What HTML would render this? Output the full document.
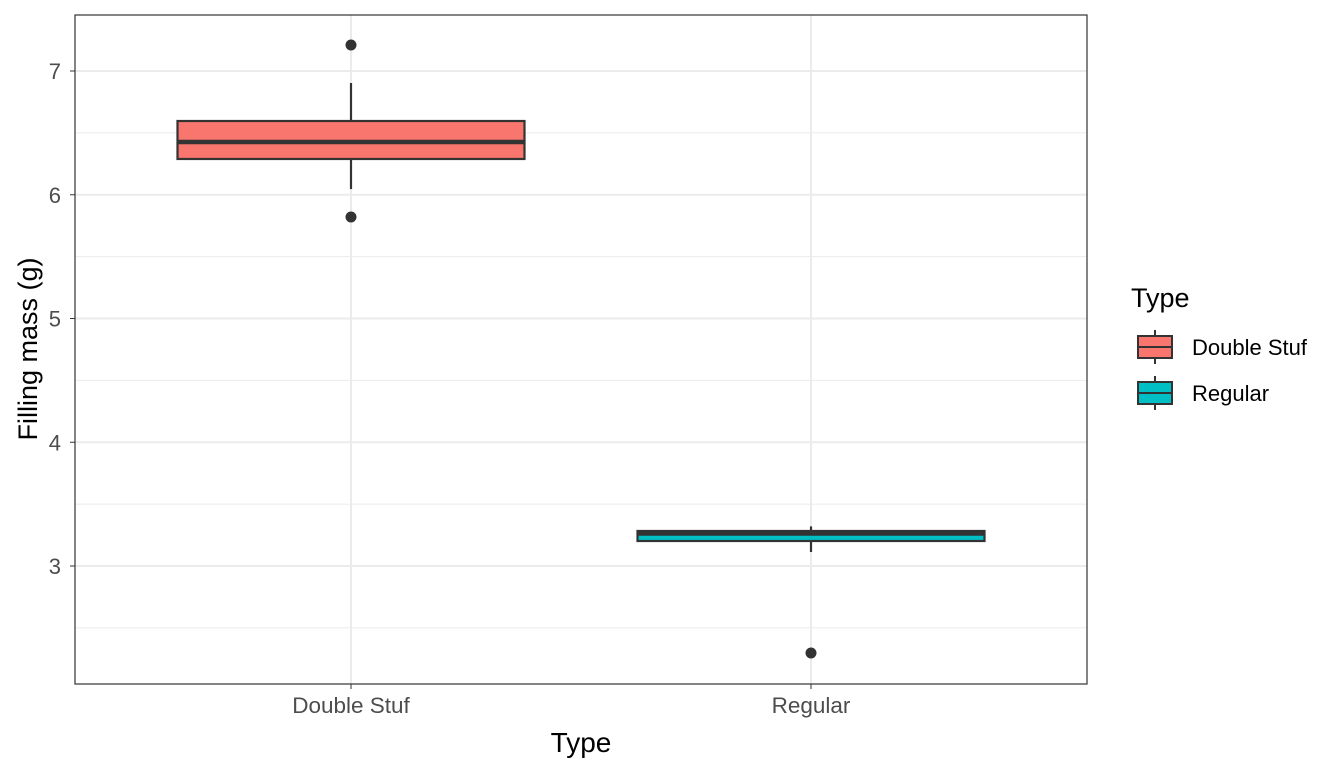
<!DOCTYPE html>
<html><head><meta charset="utf-8"><style>
body{margin:0;background:#fff;font-family:"Liberation Sans",sans-serif;}
</style></head><body>
<svg id="chart" width="1344" height="768" xmlns="http://www.w3.org/2000/svg"></svg>
<script>
const categories = ["Double Stuf","Regular"];
const fills = ["#F8766D","#00BFC4"];
const lowerWhisker = [6.046, 3.113];
const q1 = [6.289, 3.202];
const medians = [6.426, 3.263];
const q3 = [6.596, 3.283];
const upperWhisker = [6.903, 3.32];
const outliers = [[7.21, 5.82],[2.297]];
const yTicks = [3,4,5,6,7];
const yMinor = [2.5,3.5,4.5,5.5,6.5];

const NS="http://www.w3.org/2000/svg";
const svg=document.getElementById('chart');
const P={l:75,r:1087,t:15,b:684};
const y=v=>566-(v-3)*123.75;
const x=i=>351+i*460;
const bw=347;
function mk(t,a,parent){const e=document.createElementNS(NS,t);for(const k in a)e.setAttribute(k,a[k]);(parent||svg).appendChild(e);return e;}

yMinor.forEach(v=>{const g=mk('line',{x1:P.l,x2:P.r,y1:y(v),y2:y(v),stroke:'#ebebeb','stroke-width':1});

});
yTicks.forEach(v=>{const g=mk('line',{x1:P.l,x2:P.r,y1:y(v),y2:y(v),stroke:'#ebebeb','stroke-width':2});


mk('line',{x1:P.l-5,x2:P.l,y1:y(v),y2:y(v),stroke:'#333','stroke-width':1});
const t=mk('text',{x:P.l-14,y:y(v)+8,'text-anchor':'end','font-size':22,fill:'#4d4d4d'});t.textContent=v;

});
categories.forEach((c,i)=>{const g=mk('line',{x1:x(i),x2:x(i),y1:P.t,y2:P.b,stroke:'#ebebeb','stroke-width':2});


mk('line',{x1:x(i),x2:x(i),y1:P.b,y2:P.b+5,stroke:'#333'});
const t=mk('text',{x:x(i),y:713,'text-anchor':'middle','font-size':22.5,fill:'#4d4d4d'});t.textContent=c;

});

categories.forEach((c,i)=>{
const g=mk('g',{});


mk('line',{x1:x(i),x2:x(i),y1:y(upperWhisker[i]),y2:y(q3[i]),stroke:'#333','stroke-width':2.2},g);
mk('line',{x1:x(i),x2:x(i),y1:y(q1[i]),y2:y(lowerWhisker[i]),stroke:'#333','stroke-width':2.2},g);
mk('rect',{x:x(i)-bw/2,y:y(q3[i]),width:bw,height:y(q1[i])-y(q3[i]),fill:fills[i],stroke:'#333','stroke-width':2.2},g);
mk('line',{x1:x(i)-bw/2,x2:x(i)+bw/2,y1:y(medians[i]),y2:y(medians[i]),stroke:'#333','stroke-width':4.5},g);
outliers[i].forEach(o=>{const p=mk('circle',{cx:x(i),cy:y(o),r:5.5,fill:'#333'},g);

});
});

const b=mk('rect',{x:P.l,y:P.t,width:P.r-P.l,height:P.b-P.t,fill:'none',stroke:'#333','stroke-width':1.2});



let t=mk('text',{x:581,y:752,'text-anchor':'middle','font-size':28,fill:'#000'});t.textContent='Type';


t=mk('text',{x:0,y:0,'text-anchor':'middle','font-size':27,fill:'#000',transform:'translate(37,349) rotate(-90)'});t.textContent='Filling mass (g)';



t=mk('text',{x:1131,y:307,'font-size':27,fill:'#000'});t.textContent='Type';


categories.forEach((c,i)=>{
const cy=347+i*46;
const g=mk('g',{});


mk('line',{x1:1155,x2:1155,y1:cy-17,y2:cy+17,stroke:'#333','stroke-width':2},g);
mk('rect',{x:1138,y:cy-11,width:34,height:22,fill:fills[i],stroke:'#333','stroke-width':2},g);
mk('line',{x1:1138,x2:1172,y1:cy,y2:cy,stroke:'#333','stroke-width':2},g);
const tt=mk('text',{x:1192,y:cy+8,'font-size':22,fill:'#000'},g);tt.textContent=c;
});
</script>
</body></html>
